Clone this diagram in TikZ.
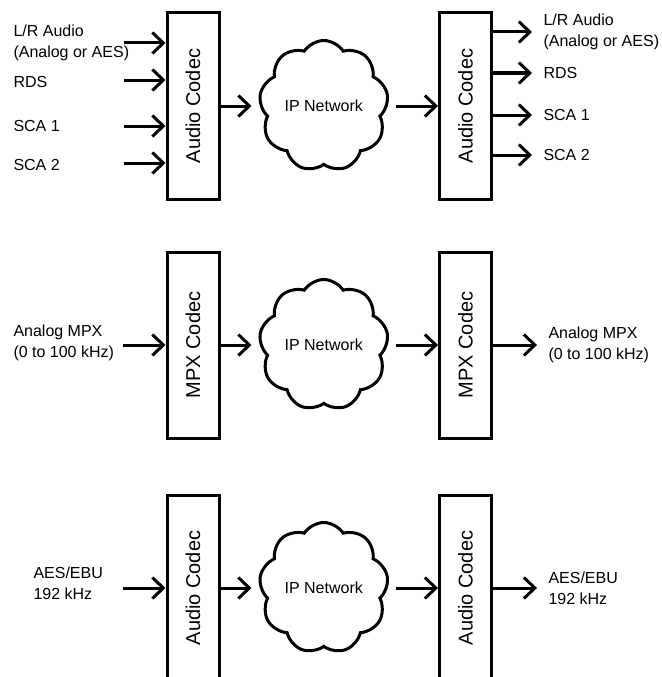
\documentclass[tikz,border=0pt]{standalone}
\usepackage{fontspec}
\setmainfont{Liberation Sans}
\usetikzlibrary{arrows.meta,positioning,shapes.symbols}

\begin{document}
\begin{tikzpicture}[x=1pt,y=-1pt,->,>={Straight Barb[length=11pt,width=21pt]},
      line width=3pt,
      codec/.style={draw,minimum width=52pt,minimum height=186pt,inner sep=0pt,
        label={[rotate=90,font=\fontsize{20}{24}\selectfont]center:#1}},
      net/.style={draw,cloud,cloud puffs=9,cloud puff arc=115,aspect=1,
        minimum width=129pt,minimum height=131pt,inner sep=0pt,
        font=\fontsize{16}{19}\selectfont},
      sig/.style={font=\fontsize{16}{21}\selectfont,align=left,anchor=west,
        inner sep=0pt}]

    \useasboundingbox (0,0) rectangle (661,677);

    % audio codec link
    \node[codec=Audio Codec] (enc1) at (193,106) {};
    \node[net] (net1) [right=39pt of enc1] {IP Network};
    \node[codec=Audio Codec] (dec1) [right=50pt of net1] {};

    \node[sig] (lrin) at (12,43) {L/R Audio\\(Analog or AES)};
    \node[sig] (rdsin) at (12,82) {RDS};
    \node[sig] (sca1in) at (12,126) {SCA 1};
    \node[sig] (sca2in) at (12,165) {SCA 2};
    \coordinate (a1) at (124,43);
    \coordinate (a2) at (124,80);
    \coordinate (a3) at (124,126);
    \coordinate (a4) at (124,163);

    \coordinate (b1) at (532,32);
    \coordinate (b2) at (532,73);
    \coordinate (b3) at (532,115);
    \coordinate (b4) at (532,155);
    \node[sig] (lrout) [right=10pt of b1] {L/R Audio\\(Analog or AES)};
    \node[sig] (rdsout) [right=10pt of b2] {RDS};
    \node[sig] (sca1out) [right=10pt of b3] {SCA 1};
    \node[sig] (sca2out) [right=10pt of b4] {SCA 2};

    \path (a1) edge (a1 -| enc1.west)
    (a2) edge (a2 -| enc1.west)
    (a3) edge (a3 -| enc1.west)
    (a4) edge (a4 -| enc1.west)
    (enc1) edge[shorten >=8pt] (net1)
    (net1) edge[shorten <=8pt] (dec1)
    (b1 -| dec1.east) edge (b1)
    (b2 -| dec1.east) edge (b2)
    (b3 -| dec1.east) edge (b3)
    (b4 -| dec1.east) edge (b4);

    % MPX codec link
    \node[codec=MPX Codec] (enc2) [below=50pt of enc1] {};
    \node[net] (net2) [right=39pt of enc2] {IP Network};
    \node[codec=MPX Codec] (dec2) [right=50pt of net2] {};
    \coordinate[left=43pt of enc2] (a5);
    \coordinate[right=44pt of dec2] (b5);
    \node[sig] (mpxin) at (12,343) {Analog MPX\\(0 to 100 kHz)};
    \node[sig] (mpxout) [right=10pt of b5] {Analog MPX\\(0 to 100 kHz)};

    \path (a5) edge (enc2)
    (enc2) edge[shorten >=8pt] (net2)
    (net2) edge[shorten <=8pt] (dec2)
    (dec2) edge (b5);

    % AES/EBU link
    \node[codec=Audio Codec] (enc3) [below=54pt of enc2] {};
    \node[net] (net3) [right=39pt of enc3] {IP Network};
    \node[codec=Audio Codec] (dec3) [right=50pt of net3] {};
    \coordinate[left=43pt of enc3] (a6);
    \coordinate[right=44pt of dec3] (b6);
    \node[sig] (aesin) at (32,583) {AES/EBU\\192 kHz};
    \node[sig] (aesout) [right=10pt of b6] {AES/EBU\\192 kHz};

    \path (a6) edge (enc3)
    (enc3) edge[shorten >=8pt] (net3)
    (net3) edge[shorten <=8pt] (dec3)
    (dec3) edge (b6);
  \end{tikzpicture}
\end{document}
